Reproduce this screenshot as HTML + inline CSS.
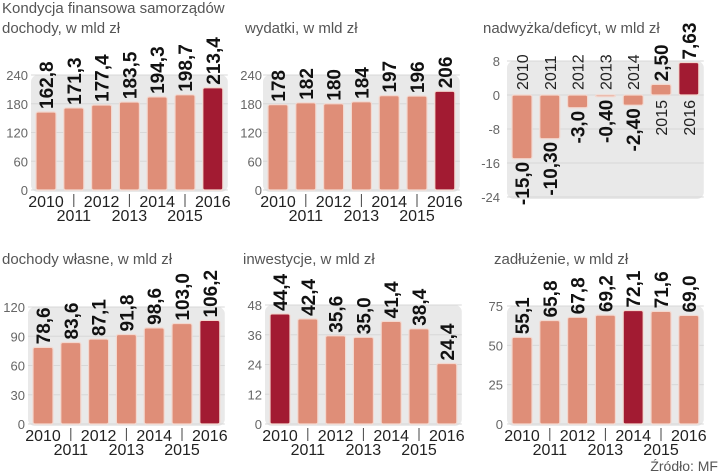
<!DOCTYPE html>
<html><head><meta charset="utf-8"><style>
html,body{margin:0;padding:0;background:#fff;}
svg{display:block;font-family:"Liberation Sans",sans-serif;}
</style></head><body>
<svg id="chart" width="720" height="475" viewBox="0 0 720 475" xmlns="http://www.w3.org/2000/svg">
<text x="2" y="13" font-size="15" fill="#555">Kondycja finansowa samorządów</text>
<text x="718" y="471" font-size="14" fill="#555" text-anchor="end">Źródło: MF</text>
</svg>
<script>
const years = ["2010","2011","2012","2013","2014","2015","2016"];
const dochody = [162.8,171.3,177.4,183.5,194.3,198.7,213.4];
const dochodyLabels = ["162,8","171,3","177,4","183,5","194,3","198,7","213,4"];
const wydatki = [178,182,180,184,197,196,206];
const wydatkiLabels = ["178","182","180","184","197","196","206"];
const saldo = [-15.0,-10.30,-3.0,-0.40,-2.40,2.50,7.63];
const saldoLabels = ["-15,0","-10,30","-3,0","-0,40","-2,40","2,50","7,63"];
const wlasne = [78.6,83.6,87.1,91.8,98.6,103.0,106.2];
const wlasneLabels = ["78,6","83,6","87,1","91,8","98,6","103,0","106,2"];
const inwestycje = [44.4,42.4,35.6,35.0,41.4,38.4,24.4];
const inwestycjeLabels = ["44,4","42,4","35,6","35,0","41,4","38,4","24,4"];
const zadluzenie = [55.1,65.8,67.8,69.2,72.1,71.6,69.0];
const zadluzenieLabels = ["55,1","65,8","67,8","69,2","72,1","71,6","69,0"];
const ticks1 = [0,60,120,180,240];
const ticks3 = [-24,-16,-8,0,8];
const ticks4 = [0,30,60,90,120];
const ticks5 = [0,12,24,36,48];
const ticks6 = [0,25,50,75];

const NS="http://www.w3.org/2000/svg";
const svg=document.getElementById('chart');
function mk(tag,attrs,parent){const e=document.createElementNS(NS,tag);for(const k in attrs)e.setAttribute(k,attrs[k]);(parent||svg).appendChild(e);return e;}

const panels=[
 {name:'dochody',title:'dochody, w mld zł',tx:2,ty:33,vals:dochody,labels:dochodyLabels,ticks:ticks1,min:0,max:240,yTop:75,yBot:190,left:36,lx:28,hi:6},
 {name:'wydatki',title:'wydatki, w mld zł',tx:245,ty:33,vals:wydatki,labels:wydatkiLabels,ticks:ticks1,min:0,max:240,yTop:75,yBot:190,left:268,lx:262,hi:6},
 {name:'saldo',title:'nadwyżka/deficyt, w mld zł',tx:483,ty:33,vals:saldo,labels:saldoLabels,ticks:ticks3,min:-24,max:8,yTop:61,yBot:197,left:512,lx:500,hi:6,diverge:true},
 {name:'dochody-wlasne',title:'dochody własne, w mld zł',tx:2,ty:264,vals:wlasne,labels:wlasneLabels,ticks:ticks4,min:0,max:120,yTop:307,yBot:424,left:33,lx:25,hi:6},
 {name:'inwestycje',title:'inwestycje, w mld zł',tx:243,ty:264,vals:inwestycje,labels:inwestycjeLabels,ticks:ticks5,min:0,max:48,yTop:305,yBot:424,left:270,lx:262,hi:0},
 {name:'zadluzenie',title:'zadłużenie, w mld zł',tx:494,ty:264,vals:zadluzenie,labels:zadluzenieLabels,ticks:ticks6,min:0,max:75,yTop:306,yBot:424,left:512,lx:503,hi:4}
];
const STEP=27.8, BW=20;
panels.forEach(p=>{
 const g=mk('g',{});
 
 
 const y=v=>p.yBot-(v-p.min)/(p.max-p.min)*(p.yBot-p.yTop);
 const t=mk('text',{x:p.tx,y:p.ty,'font-size':15,fill:'#555'},g);t.textContent=p.title;
 
 const bgL=p.left-5, bgR=p.left+6*STEP+BW+5;
 const bg=mk('rect',{x:bgL,y:y(p.max),width:bgR-bgL,height:y(p.min)-y(p.max)+2,rx:7,fill:'#e9e9e9'},g);
 
 p.ticks.forEach(tv=>{
  mk('line',{x1:bgL,x2:bgR,y1:y(tv),y2:y(tv),stroke:'#d8d8d8','stroke-width':1},g);
  const tl=mk('text',{x:p.lx,y:y(tv)+5,'font-size':13,fill:'#666','text-anchor':'end'},g);tl.textContent=tv;
  
 });
 const zero=y(Math.max(0,p.min));
 p.vals.forEach((v,i)=>{
  const x=p.left+i*STEP, cx=x+BW/2;
  const top=Math.min(y(v),zero), h=Math.max(Math.abs(y(v)-zero),1.5);
  const b=mk('rect',{x:x,y:top,width:BW,height:h,rx:2,fill:i===p.hi?'#a21b32':'#df8e78',stroke:'#f3d8cf','stroke-width':1.2},g);
  
  let vy,anchor;
  if(v>=0){vy=top-3;anchor='start';}else{vy=top+h+3;anchor='end';}
  const vl=mk('text',{transform:`translate(${cx+7},${vy}) rotate(-90)`,'font-size':19,'font-weight':'bold',fill:'#111','text-anchor':anchor,'font-family':'"Liberation Sans Narrow","Liberation Sans",sans-serif'},g);
  vl.textContent=p.labels[i];
  
  if(p.diverge){
   let yy,an;
   if(v<0){yy=zero-5;an='start';}else{yy=zero+5;an='end';}
   const yl=mk('text',{transform:`translate(${cx+6},${yy}) rotate(-90)`,'font-size':16,fill:'#222','text-anchor':an},g);
   yl.textContent=years[i];
   
  } else {
   const odd=i%2===1;
   const yl=mk('text',{x:cx,y:p.yBot+(odd?31:17),'font-size':16,fill:'#222','text-anchor':'middle'},g);
   yl.textContent=years[i];
   
   if(odd) mk('line',{x1:cx,x2:cx,y1:p.yBot+4,y2:p.yBot+17,stroke:'#444','stroke-width':1},g);
  }
 });
});
</script>
</body></html>
